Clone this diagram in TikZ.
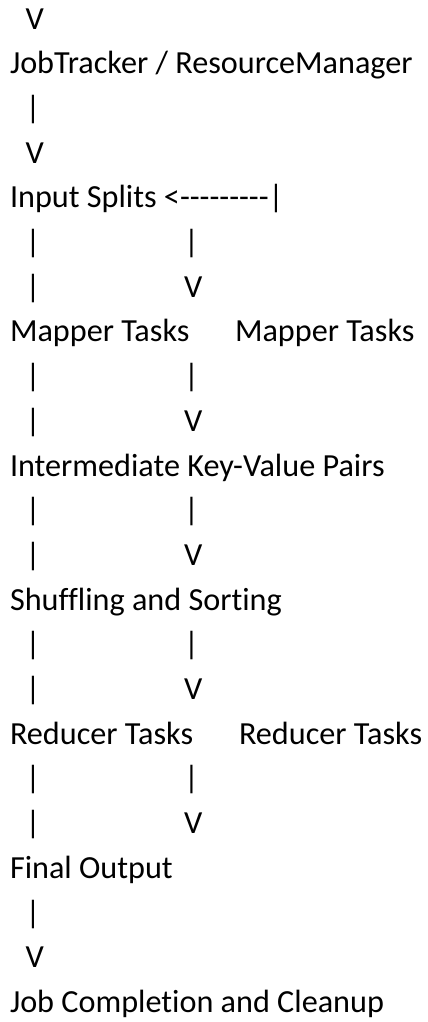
\documentclass[tikz,border=0pt]{standalone}
\usepackage{fontspec}
\setmainfont{Carlito}[Ligatures={TeXOff,NoCommon}]
\usepackage{tikz}
\usetikzlibrary{positioning}

\begin{document}
\begin{tikzpicture}[x=1bp, y=-1bp,
    txt/.style={anchor=base west, inner sep=0pt, outer sep=0pt,
        font=\fontsize{32.2bp}{38bp}\selectfont}]
    \useasboundingbox (0,0) rectangle (427,1022);

    % Left column: the job flow, one line every 44.7bp
    \node[txt] (in)      at (25.5, 29)    {V};
    \node[txt] (jt)      at (10, 73.7)    {JobTracker / ResourceManager};
    \node[txt] (p1)      at (25.5, 118.4) {|};
    \node[txt] (v1)      at (25.5, 163.1) {V};
    \node[txt] (splits)  at (10, 207.8)   {Input Splits <---------|};
    \node[txt] (p2)      at (25.5, 252.5) {|};
    \node[txt] (p3)      at (25.5, 297.2) {|};
    \node[txt] (map)     at (10, 341.9)   {Mapper Tasks};
    \node[txt] (p4)      at (25.5, 386.6) {|};
    \node[txt] (p5)      at (25.5, 431.3) {|};
    \node[txt] (kv)      at (10, 476)     {Intermediate Key-Value Pairs};
    \node[txt] (p6)      at (25.5, 520.7) {|};
    \node[txt] (p7)      at (25.5, 565.4) {|};
    \node[txt] (shuffle) at (10, 610.1)   {Shuffling and Sorting};
    \node[txt] (p8)      at (25.5, 654.8) {|};
    \node[txt] (p9)      at (25.5, 699.5) {|};
    \node[txt] (red)     at (10, 744.2)   {Reducer Tasks};
    \node[txt] (p10)     at (25.5, 788.9) {|};
    \node[txt] (p11)     at (25.5, 833.6) {|};
    \node[txt] (out)     at (10, 878.3)   {Final Output};
    \node[txt] (p12)     at (25.5, 923)   {|};
    \node[txt] (v2)      at (25.5, 967.7) {V};
    \node[txt] (done)    at (10, 1012.4)  {Job Completion and Cleanup};

    % Right column: second branch under the split arrow
    \node[txt] (q1)   at (184, 252.5) {|};
    \node[txt] (w1)   at (184, 297.2) {V};
    \node[txt] (mapR) at (235, 341.9) {Mapper Tasks};
    \node[txt] (q2)   at (184, 386.6) {|};
    \node[txt] (w2)   at (184, 431.3) {V};
    \node[txt] (q3)   at (184, 520.7) {|};
    \node[txt] (w3)   at (184, 565.4) {V};
    \node[txt] (q4)   at (184, 654.8) {|};
    \node[txt] (w4)   at (184, 699.5) {V};
    \node[txt] (redR) at (239, 744.2) {Reducer Tasks};
    \node[txt] (q5)   at (184, 788.9) {|};
    \node[txt] (w5)   at (184, 833.6) {V};
\end{tikzpicture}
\end{document}
